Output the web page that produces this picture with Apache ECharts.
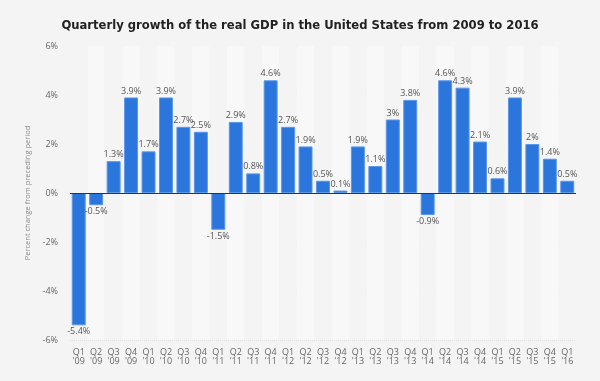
<!DOCTYPE html>
<html><head><meta charset="utf-8">
<script src="https://cdn.jsdelivr.net/npm/echarts@6/dist/echarts.min.js"></script>
<style>html,body{margin:0;padding:0;background:#f4f4f4}#c{width:600px;height:381px}</style>
</head><body><div id="c"></div>
<script>
var categories = ["Q1\n'09","Q2\n'09","Q3\n'09","Q4\n'09","Q1\n'10","Q2\n'10","Q3\n'10","Q4\n'10","Q1\n'11","Q2\n'11","Q3\n'11","Q4\n'11","Q1\n'12","Q2\n'12","Q3\n'12","Q4\n'12","Q1\n'13","Q2\n'13","Q3\n'13","Q4\n'13","Q1\n'14","Q2\n'14","Q3\n'14","Q4\n'14","Q1\n'15","Q2\n'15","Q3\n'15","Q4\n'15","Q1\n'16"];
var growth = [-5.4,-0.5,1.3,3.9,1.7,3.9,2.7,2.5,-1.5,2.9,0.8,4.6,2.7,1.9,0.5,0.1,1.9,1.1,3,3.8,-0.9,4.6,4.3,2.1,0.6,3.9,2,1.4,0.5];
var yTicks = [-6,-4,-2,0,2,4,6];
var chart = echarts.init(document.getElementById('c'));
chart.setOption({
  backgroundColor:'#f4f4f4',
  animation:false,
  title:{text:'Quarterly growth of the real GDP in the United States from 2009 to 2016',left:'center',top:14,
    textStyle:{fontFamily:'DejaVu Sans Condensed',fontSize:12.9,fontWeight:'bold',color:'#222'}},
  grid:{left:70,right:24,top:46,bottom:41},
  xAxis:{type:'category',data:categories,
    axisLine:{show:false},axisTick:{show:false},
    axisLabel:{color:'#666',fontSize:9,fontFamily:'Open Sans',lineHeight:9,margin:8,interval:0},
    splitArea:{show:true,areaStyle:{color:['#f4f4f4','#f8f8f8']}}},
  yAxis:{type:'value',min:yTicks[0],max:yTicks[yTicks.length-1],interval:2,
    name:'Percent change from preceding period',nameLocation:'middle',nameGap:36,
    nameTextStyle:{color:'#888',fontSize:7.5,fontFamily:'Open Sans'},
    axisLine:{show:false},axisTick:{show:false},
    axisLabel:{color:'#666',fontSize:9,fontFamily:'Open Sans',formatter:'{value}%',margin:12},
    splitLine:{lineStyle:{color:'#ddd',type:'dotted'}}},
  series:[{type:'bar',
    data:growth.map(function(v){return v<0?{value:v,label:{position:'bottom'}}:v;}),
    barCategoryGap:'20%',
    itemStyle:{color:'#2a76dd',borderColor:'#5a96ea',borderWidth:1},
    label:{show:true,position:'top',formatter:function(p){return p.value+'%';},
      color:'#555',fontSize:9,fontFamily:'Open Sans',distance:2},
    markLine:{silent:true,symbol:'none',label:{show:false},
      lineStyle:{color:'#333',type:'solid',width:1},data:[{yAxis:0}]}
  }]
});
</script></body></html>
